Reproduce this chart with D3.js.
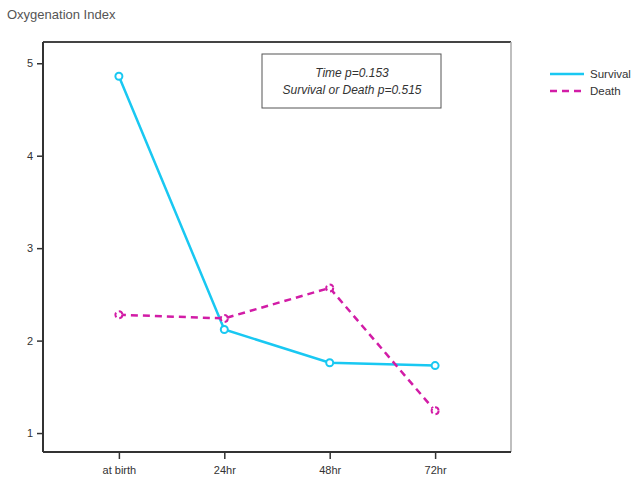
<!DOCTYPE html>
<html>
<head>
<meta charset="utf-8">
<script src="https://cdn.jsdelivr.net/npm/d3@7"></script>
<style>
  body { margin: 0; background: #fff; }
  text { font-family: Arial, "Liberation Sans", sans-serif; }
</style>
</head>
<body>
<div id="chart"></div>
<script>
const categories = ["at birth", "24hr", "48hr", "72hr"];
const survival = [4.86, 2.12, 1.76, 1.73];
const death = [2.28, 2.24, 2.57, 1.24];
const yTicks = [1, 2, 3, 4, 5];
const seriesNames = ["Survival", "Death"];
const annotation = ["Time p=0.153", "Survival or Death p=0.515"];

const width = 635, height = 482;
const plot = { left: 43, right: 511, top: 42, bottom: 452 };

const svg = d3.select("#chart").append("svg")
  .attr("width", width)
  .attr("height", height);

const x = d3.scalePoint()
  .domain(categories)
  .range([plot.left, plot.right])
  .padding(0.72);

const y = d3.scaleLinear()
  .domain([0.795, 5.23])
  .range([plot.bottom, plot.top]);

// title
svg.append("text")
  .attr("x", 7).attr("y", 19)
  .attr("font-size", 13).attr("fill", "#555")
  .text("Oxygenation Index");

// frame: top dark, right lighter; left and bottom come from the axes
svg.append("line")
  .attr("x1", plot.left).attr("x2", plot.right)
  .attr("y1", plot.top).attr("y2", plot.top)
  .attr("stroke", "#444").attr("stroke-width", 2);
svg.append("line")
  .attr("x1", plot.right).attr("x2", plot.right)
  .attr("y1", plot.top).attr("y2", plot.bottom)
  .attr("stroke", "#aaa").attr("stroke-width", 1.5);

const yAxis = svg.append("g")
  .attr("transform", `translate(${plot.left},0)`)
  .call(d3.axisLeft(y).tickValues(yTicks).tickSize(6).tickPadding(4).tickFormat(d3.format("d")));
yAxis.select(".domain").attr("d", `M0,${plot.top}V${plot.bottom}`).attr("stroke", "#333").attr("stroke-width", 2);
yAxis.selectAll(".tick line").attr("stroke", "#333").attr("stroke-width", 1.5);
yAxis.selectAll(".tick text").attr("font-size", 11).attr("fill", "#333");

const xAxis = svg.append("g")
  .attr("transform", `translate(0,${plot.bottom})`)
  .call(d3.axisBottom(x).tickSize(7).tickPadding(7));
xAxis.select(".domain").attr("d", `M${plot.left},0H${plot.right}`).attr("stroke", "#333").attr("stroke-width", 2);
xAxis.selectAll(".tick line").attr("stroke", "#333").attr("stroke-width", 1.5);
xAxis.selectAll(".tick text").attr("font-size", 11).attr("fill", "#333");

const series = [
  { name: seriesNames[0], values: survival, color: "#19c8f2", dash: null },
  { name: seriesNames[1], values: death, color: "#d21ca6", dash: "7,5" }
];

const line = d3.line()
  .x((d, i) => x(categories[i]))
  .y(d => y(d));

series.forEach(s => {
  svg.append("path")
    .datum(s.values)
    .attr("fill", "none")
    .attr("stroke", s.color)
    .attr("stroke-width", 2.5)
    .attr("stroke-dasharray", s.dash)
    .attr("d", line);

  svg.append("g").selectAll("circle")
    .data(s.values)
    .join("circle")
    .attr("cx", (d, i) => x(categories[i]))
    .attr("cy", d => y(d))
    .attr("r", 3.5)
    .attr("fill", "#fff")
    .attr("stroke", s.color)
    .attr("stroke-width", 2)
    .attr("stroke-dasharray", s.dash ? "5,3" : null);
});

// annotation box
const box = svg.append("g");
box.append("rect")
  .attr("x", 262).attr("y", 54)
  .attr("width", 179).attr("height", 54)
  .attr("fill", "#fff").attr("stroke", "#555").attr("stroke-width", 1);
box.selectAll("text")
  .data(annotation)
  .join("text")
  .attr("x", 352)
  .attr("y", (d, i) => 77 + i * 17)
  .attr("text-anchor", "middle")
  .attr("font-size", 12)
  .attr("font-style", "italic")
  .attr("fill", "#333")
  .text(d => d);

// legend
const legend = svg.append("g");
series.forEach((s, i) => {
  const ly = 74 + i * 17;
  legend.append("line")
    .attr("x1", 550).attr("x2", 584)
    .attr("y1", ly).attr("y2", ly)
    .attr("stroke", s.color).attr("stroke-width", 2.5)
    .attr("stroke-dasharray", s.dash);
  legend.append("text")
    .attr("x", 590).attr("y", ly + 4)
    .attr("font-size", 11.5).attr("fill", "#333")
    .text(s.name);
});
</script>
</body>
</html>
